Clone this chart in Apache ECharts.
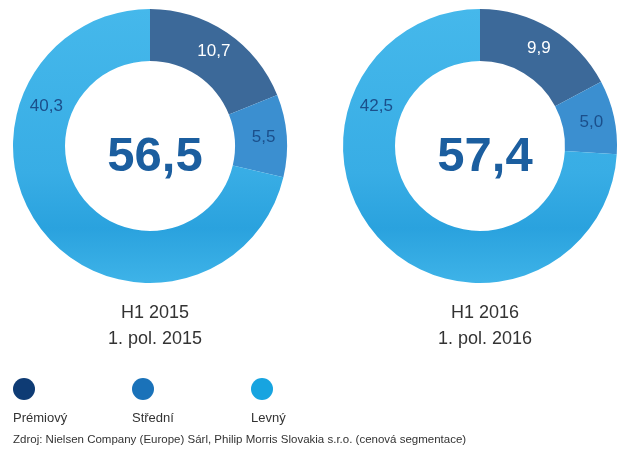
<!DOCTYPE html>
<html>
<head>
<meta charset="utf-8">
<script src="https://cdn.jsdelivr.net/npm/echarts@6/dist/echarts.min.js"></script>
<style>
  html, body { margin: 0; padding: 0; background: #fff; }
  #chart { width: 640px; height: 458px; }
</style>
</head>
<body>
<div id="chart"></div>
<script>
// data
const segments = ['Prémiový', 'Střední', 'Levný'];
const values2015 = [10.7, 5.5, 40.3];
const values2016 = [9.9, 5.0, 42.5];
const periods = ['H1 2015\n1. pol. 2015', 'H1 2016\n1. pol. 2016'];
const source = 'Zdroj: Nielsen Company (Europe) Sárl, Philip Morris Slovakia s.r.o. (cenová segmentace)';

// looks
const ringColors = ['#3c6999', '#3b8fd0', {
  type: 'linear', x: 0, y: 0, x2: 0, y2: 1,
  colorStops: [
    { offset: 0, color: '#45b8eb' },
    { offset: 0.6, color: '#38ade5' },
    { offset: 0.8, color: '#2aa2de' },
    { offset: 1, color: '#3eb3e8' }
  ]
}];
const legendColors = ['#0e3b74', '#1a72b9', '#17a4e0'];
const legendTextLeft = [3, 122, 241];
const centersX = [150, 480];
const centerY = 146;
const radius = [85, 137];
const bigLabelAngle = 291; // where the "Levný" number sits

const fmt = v => v.toFixed(1).replace('.', ',');
const sum = arr => arr.reduce((a, b) => a + b, 0);

const chart = echarts.init(document.getElementById('chart'), null, { renderer: 'canvas' });

function pieSeries(values, i) {
  return {
    type: 'pie',
    center: [centersX[i], centerY],
    radius: radius,
    startAngle: 90,
    clockwise: true,
    silent: true,
    itemStyle: { borderWidth: 0 },
    label: {
      show: true,
      position: 'inside',
      formatter: p => fmt(p.value),
      fontFamily: 'Liberation Sans',
      fontSize: 17,
      color: '#1b4f8b'
    },
    labelLine: { show: false },
    labelLayout: function (p) {
      if (p.dataIndex !== 2) return {};
      const a = bigLabelAngle * Math.PI / 180;
      const r = (radius[0] + radius[1]) / 2;
      return {
        x: centersX[i] + r * Math.sin(a),
        y: centerY - r * Math.cos(a),
        align: 'center',
        verticalAlign: 'middle'
      };
    },
    data: values.map((v, k) => ({
      name: segments[k],
      value: v,
      itemStyle: { color: ringColors[k] },
      label: k === 0 ? { color: '#ffffff' } : {}
    }))
  };
}

const allValues = [values2015, values2016];

const titles = [];
allValues.forEach((vals, i) => {
  titles.push({
    text: fmt(sum(vals)),
    left: centersX[i],
    top: 152,
    textAlign: 'center',
    textVerticalAlign: 'middle',
    textStyle: { fontFamily: 'Liberation Sans', fontSize: 49, fontWeight: 'bold', color: '#1b5e9f' }
  });
  titles.push({
    text: periods[i],
    left: centersX[i],
    top: 295,
    textAlign: 'center',
    textStyle: { fontFamily: 'Liberation Sans', fontSize: 18, fontWeight: 'normal', color: '#333333', lineHeight: 26 }
  });
});
titles.push({
  text: source,
  left: 8,
  top: 429,
  textStyle: { fontFamily: 'Liberation Sans', fontSize: 11.5, fontWeight: 'normal', color: '#333333' }
});

const legends = [{
  data: segments.map((s, k) => ({ name: s, itemStyle: { color: legendColors[k] } })),
  left: 8,
  top: 373,
  icon: 'circle',
  itemWidth: 22,
  itemHeight: 22,
  itemGap: 97,
  selectedMode: false,
  formatter: () => ''
}];
segments.forEach((s, k) => {
  legends.push({
    data: [{ name: s, itemStyle: { opacity: 0 } }],
    left: legendTextLeft[k],
    top: 407,
    icon: 'circle',
    itemWidth: 0,
    itemHeight: 0,
    selectedMode: false,
    textStyle: { fontFamily: 'Liberation Sans', fontSize: 13, color: '#333333' }
  });
});

chart.setOption({
  animation: false,
  backgroundColor: '#ffffff',
  title: titles,
  legend: legends,
  series: allValues.map(pieSeries)
});
</script>
</body>
</html>
